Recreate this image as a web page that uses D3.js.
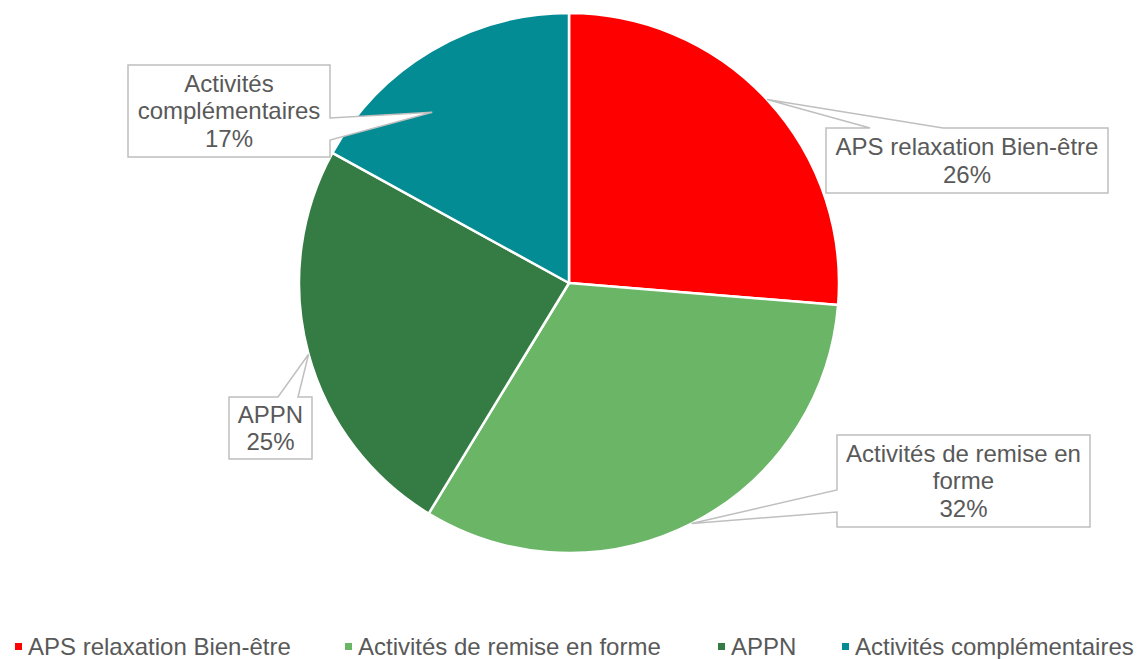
<!DOCTYPE html>
<html>
<head>
<meta charset="utf-8">
<script src="https://cdn.jsdelivr.net/npm/d3@7"></script>
<style>
  html, body { margin: 0; padding: 0; background: #fff; }
  svg { display: block; }
  text { font-family: "Liberation Sans", Arial, sans-serif; fill: #595959; }
</style>
</head>
<body>
<svg id="chart" width="1137" height="659"></svg>
<script>
// ---- data ----
const categories = ["APS relaxation Bien-être", "Activités de remise en forme", "APPN", "Activités complémentaires"];
const values = [26.3, 32.4, 24.3, 17.0];
const labelLines = [
  ["APS relaxation Bien-être", "26%"],
  ["Activités de remise en", "forme", "32%"],
  ["APPN", "25%"],
  ["Activités", "complémentaires", "17%"]
];
const colors = ["#FF0000", "#6AB566", "#357B44", "#038C93"];

// ---- layout ----
const W = 1137, H = 659;
const cx = 569, cy = 283, R = 270;
const fontSize = 24, lineH = 27.6;
// callout boxes: x,y,w,h, side of wedge, wedge start/end along side, tip angle offset (deg), tip radius factor
const callouts = [
  { x: 826, y: 128, w: 282, h: 65, side: "top", a: 870, b: 943, dAng: -0.14, rf: 1.0 },
  { x: 837, y: 435, w: 253, h: 92, side: "left", a: 490, b: 512, dAng: 0, rf: 1.0 },
  { x: 229, y: 397, w: 83, h: 62, side: "top", a: 278, b: 298, dAng: -0.36, rf: 1.0 },
  { x: 128, y: 65, w: 202, h: 92, side: "right", a: 118, b: 140, dAng: -8.1, rf: 0.81 }
];
const legendX = [15, 345, 718, 842];
const legendTextDX = 13;
const legendY = 655;

const svg = d3.select("#chart");
const g = svg.append("g").attr("transform", `translate(${cx},${cy})`);

const pie = d3.pie().sort(null).value(d => d)(values);
const arc = d3.arc().innerRadius(0).outerRadius(R);

g.selectAll("path.slice")
  .data(pie)
  .join("path")
  .attr("class", "slice")
  .attr("d", arc)
  .attr("fill", (d, i) => colors[i])
  .attr("stroke", "#fff")
  .attr("stroke-width", 2.5)
  .attr("stroke-linejoin", "round");

// callouts
function calloutPath(c, tx, ty) {
  const x0 = c.x, y0 = c.y, x1 = c.x + c.w, y1 = c.y + c.h;
  let pts;
  if (c.side === "top") {
    pts = [[x0, y0], [c.a, y0], [tx, ty], [c.b, y0], [x1, y0], [x1, y1], [x0, y1]];
  } else if (c.side === "left") {
    pts = [[x0, y0], [x1, y0], [x1, y1], [x0, y1], [x0, c.b], [tx, ty], [x0, c.a]];
  } else if (c.side === "right") {
    pts = [[x0, y0], [x1, y0], [x1, c.a], [tx, ty], [x1, c.b], [x1, y1], [x0, y1]];
  } else {
    pts = [[x0, y0], [x1, y0], [x1, y1], [c.b, y1], [tx, ty], [c.a, y1], [x0, y1]];
  }
  return "M" + pts.map(p => p.join(",")).join("L") + "Z";
}

const lab = svg.append("g");
pie.forEach((d, i) => {
  const c = callouts[i];
  const ang = (d.startAngle + d.endAngle) / 2 + c.dAng * Math.PI / 180;
  const tx = cx + Math.sin(ang) * R * c.rf;
  const ty = cy - Math.cos(ang) * R * c.rf;
  lab.append("path")
    .attr("d", calloutPath(c, tx, ty))
    .attr("fill", "#fff")
    .attr("stroke", "#BFBFBF")
    .attr("stroke-width", 1.5)
    .attr("stroke-linejoin", "miter");
  const lines = labelLines[i];
  const midY = c.y + c.h / 2;
  const firstY = midY - (lines.length - 1) * lineH / 2;
  lines.forEach((t, k) => {
    lab.append("text")
      .attr("x", c.x + c.w / 2)
      .attr("y", firstY + k * lineH)
      .attr("dy", "0.35em")
      .attr("text-anchor", "middle")
      .attr("font-size", fontSize)
      .text(t);
  });
});

// legend
const leg = svg.append("g");
categories.forEach((name, i) => {
  leg.append("rect")
    .attr("x", legendX[i]).attr("y", legendY - 12)
    .attr("width", 7).attr("height", 7)
    .attr("fill", colors[i]);
  leg.append("text")
    .attr("x", legendX[i] + legendTextDX)
    .attr("y", legendY)
    .attr("font-size", fontSize)
    .text(name);
});
</script>
</body>
</html>
